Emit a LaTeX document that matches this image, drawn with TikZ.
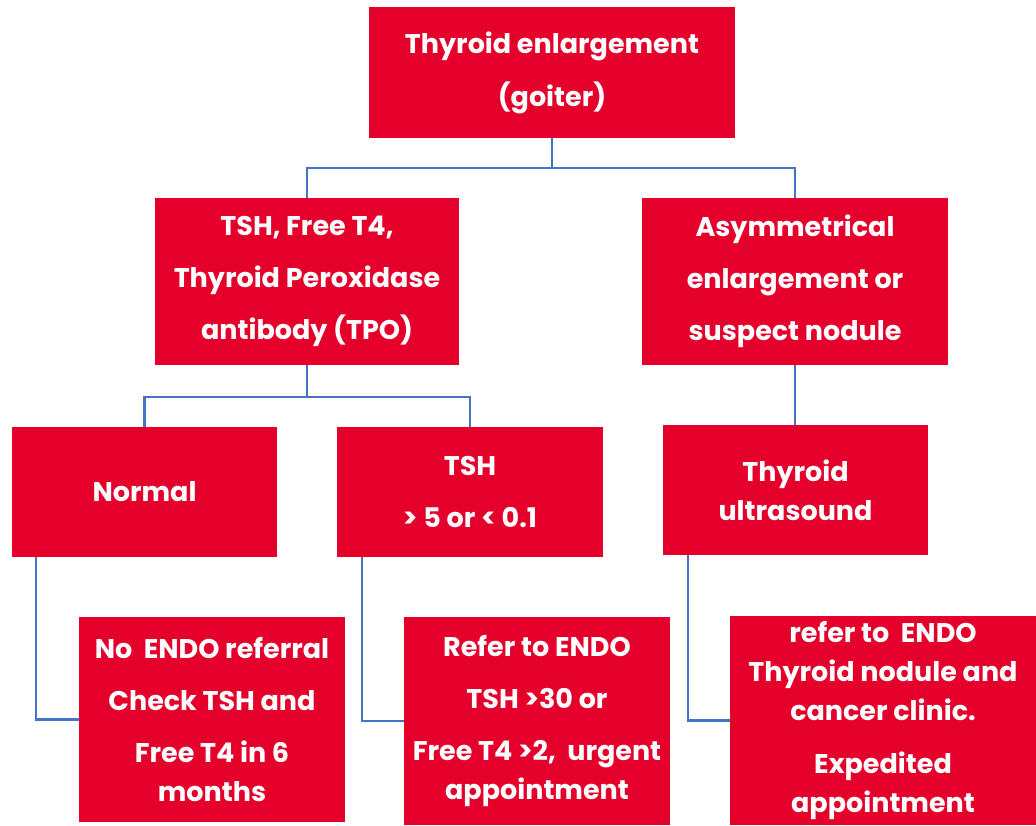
\documentclass[tikz,border=0pt]{standalone}
\usepackage{fontspec}
\setmainfont{Poppins}
\definecolor{boxred}{RGB}{228,0,43}
\definecolor{linkblue}{RGB}{68,114,196}
\begin{document}
\begin{tikzpicture}[x=1pt,y=-1pt,
  box/.style={fill=boxred, text=white, align=center, inner sep=0pt,
    font=\bfseries\fontsize{27}{39}\selectfont},
  link/.style={draw=linkblue, line width=2.3pt}]
\useasboundingbox (0,0) rectangle (1036,825);
\node[box, minimum width=366pt, minimum height=131pt] (top) at (552,72.5) {Thyroid enlargement\\[14pt](goiter)};
\node[box, minimum width=304pt, minimum height=167pt] (tsh) at (307,281.5) {TSH, Free T4,\\[13pt]Thyroid Peroxidase\\[13pt]antibody (TPO)};
\node[box, minimum width=306pt, minimum height=167pt] (asym) at (795,281.5) {Asymmetrical\\[13pt]enlargement or\\[13pt]suspect nodule};
\node[box, minimum width=265pt, minimum height=130pt] (normal) at (144.5,492) {Normal};
\node[box, minimum width=266pt, minimum height=130pt] (tshfive) at (470,492) {TSH\\[13pt]> 5 or < 0.1};
\node[box, minimum width=265pt, minimum height=130pt] (us) at (795.5,490) {Thyroid\\ultrasound};
\node[box, minimum width=266pt, minimum height=205pt] (noendo) at (212,719.5) {No\ \ ENDO referral\\[13pt]Check TSH and\\[13pt]Free T4 in 6\\months};
\node[box, minimum width=266pt, minimum height=208pt] (refer) at (537,721) {Refer to ENDO\\[13pt]TSH >30 or\\[13pt]Free T4 >2,\ \ urgent\\appointment};
\node[box, minimum width=306pt, minimum height=209pt] (endo) at (883,720.5) {refer to\ \ ENDO\\Thyroid nodule and\\cancer clinic.\\[14pt]Expedited\\appointment};
\draw[link] (top.south) -- ++(0,30) -| (tsh.north);
\draw[link] (top.south) -- ++(0,30) -| (asym.north);
\draw[link] (tsh.south) -- ++(0,32) -| (normal.north);
\draw[link] (tsh.south) -- ++(0,32) -| (tshfive.north);
\draw[link] (asym.south) -- (asym.south |- us.north);
\draw[link] ([xshift=24pt]normal.south west) |- (noendo.west);
\draw[link] ([xshift=25pt]tshfive.south west) |- (refer.west);
\draw[link] ([xshift=25pt]us.south west) |- (endo.west);
\end{tikzpicture}
\end{document}
